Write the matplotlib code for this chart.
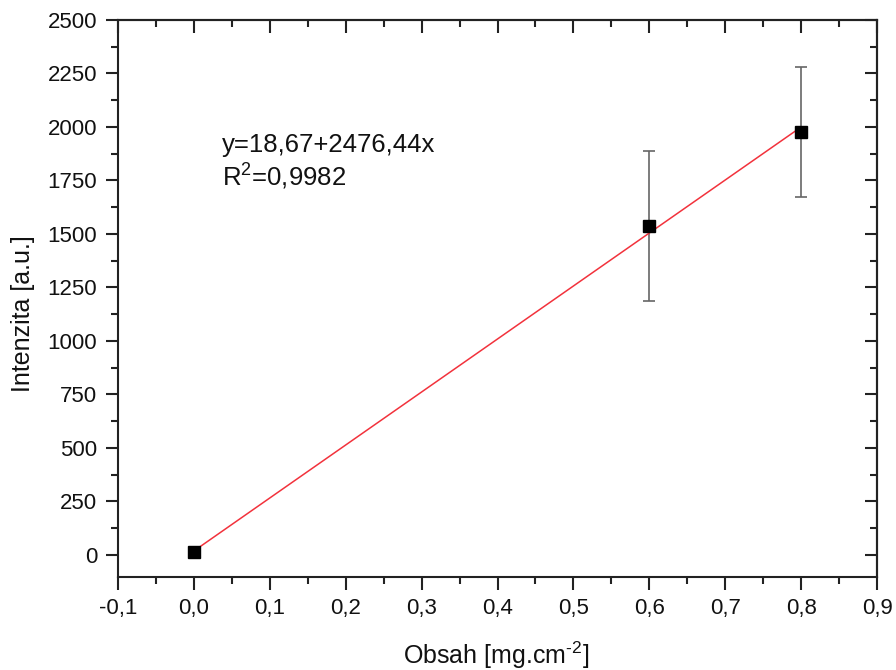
import matplotlib
matplotlib.use("Agg")
import matplotlib.pyplot as plt
import numpy as np
from matplotlib.ticker import MultipleLocator, FuncFormatter

plt.rcParams['font.family'] = ['Liberation Sans', 'DejaVu Sans']
plt.rcParams['mathtext.fontset'] = 'custom'
plt.rcParams['mathtext.rm'] = 'Liberation Sans'
plt.rcParams['mathtext.it'] = 'Liberation Sans:italic'
plt.rcParams['mathtext.bf'] = 'Liberation Sans:bold'

x_vals = [0.0, 0.6, 0.8]
y_vals = [12, 1537, 1977]
y_err = [0, 352, 305]
intercept = 18.67
slope = 2476.44
fit_x = [0.0, 0.8]

W, H = 896, 670
fig = plt.figure(figsize=(W / 100, H / 100), dpi=100)
L, R, T, B = 118, 877, 20, 577
ax = fig.add_axes([L / W, 1 - B / H, (R - L) / W, (B - T) / H])

fx = np.array(fit_x)
ax.plot(fx, intercept + slope * fx, color='#f2323c', lw=1.1, zorder=2)
ax.errorbar(x_vals, y_vals, yerr=y_err, fmt='none', ecolor='#666666',
            elinewidth=1.2, capsize=4.5, capthick=1.2, zorder=1)
ax.plot(x_vals, y_vals, 's', color='black', ms=9, zorder=3)

ax.set_xlim(-0.1, 0.9)
ax.set_ylim(-103, 2500)

def fmt_x(v, p):
    s = f"{v:.1f}".replace('.', ',')
    return '0,0' if s == '-0,0' else s

for axis, maj, mnr in ((ax.xaxis, 0.1, 0.05), (ax.yaxis, 250, 125)):
    axis.set_major_locator(MultipleLocator(maj))
    axis.set_minor_locator(MultipleLocator(mnr))
ax.xaxis.set_major_formatter(FuncFormatter(fmt_x))

tc = '#222222'
ax.tick_params(which='both', direction='out', top=False, right=False,
               width=1.5, color=tc, labelcolor='#111111', labelsize=16)
ax.tick_params(which='major', length=9)
ax.tick_params(which='minor', length=5)
ax.tick_params(axis='x', pad=6)
ax.tick_params(axis='y', pad=6)

secx = ax.secondary_xaxis('top')
secx.xaxis.set_major_locator(MultipleLocator(0.1))
secx.xaxis.set_minor_locator(MultipleLocator(0.05))
secx.tick_params(which='both', direction='in', width=1.5, color=tc, labeltop=False)
secx.tick_params(which='major', length=9)
secx.tick_params(which='minor', length=5)
secy = ax.secondary_yaxis('right')
secy.yaxis.set_major_locator(MultipleLocator(250))
secy.yaxis.set_minor_locator(MultipleLocator(125))
secy.tick_params(which='both', direction='in', width=1.5, color=tc, labelright=False)
secy.tick_params(which='major', length=9)
secy.tick_params(which='minor', length=5)

for a in (ax, secx, secy):
    for s in a.spines.values():
        s.set_linewidth(1.5)
        s.set_color(tc)

fig.text(((L + R) / 2 - 1) / W, 1 - 655 / H, r'Obsah [mg.cm$^{\text{-2}}$]',
         fontsize=18, ha='center', va='center', color='#111111')
fig.text(23 / W, 1 - 314 / H, 'Intenzita [a.u.]', fontsize=18, rotation=90,
         ha='center', va='center', color='#111111')

ax.text(0.137, 0.763, 'y=18,67+2476,44x', transform=ax.transAxes,
        fontsize=18.5, ha='left', va='baseline', color='#111111')
ax.text(0.137, 0.702, r'R$^{2}$=0,9982', transform=ax.transAxes,
        fontsize=18.5, ha='left', va='baseline', color='#111111')

fig.savefig('out.png', dpi=100)
